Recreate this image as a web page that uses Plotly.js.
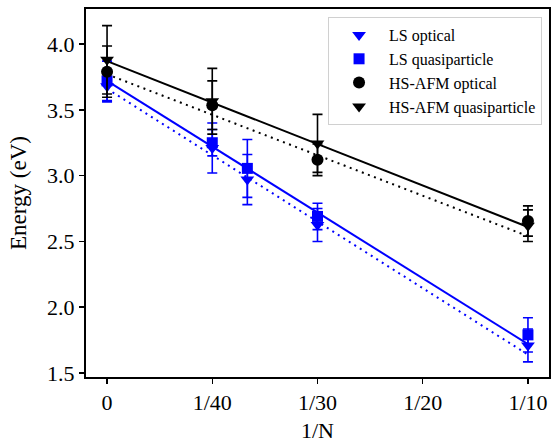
<!DOCTYPE html>
<html>
<head>
<meta charset="utf-8">
<script src="https://cdn.plot.ly/plotly-3.0.1.min.js"></script>
<style>
html,body{margin:0;padding:0;background:#fff;}
#chart{width:554px;height:446px;}
</style>
</head>
<body>
<div id="chart"></div>
<script>
// ---- data ----
const xLS = [0, 1/40, 1/30, 1/20, 1/10];
const lsOptical = [3.68, 3.21, 2.97, 2.625, 1.71];
const lsOpticalErr = [0.12, 0.19, 0.19, 0.125, 0.125];
const lsQuasi = [3.72, 3.25, 3.055, 2.69, 1.79];
const lsQuasiErr = [0.15, 0.10, 0.22, 0.10, 0.13];

const xHS = [0, 1/40, 1/20, 1/10];
const hsOptical = [3.79, 3.535, 3.12, 2.655];
const hsOpticalErr = [0.195, 0.185, 0.12, 0.115];
const hsQuasi = [3.88, 3.565, 3.245, 2.62];
const hsQuasiErr = [0.26, 0.25, 0.22, 0.12];

// fitted lines (end values)
const xFit = [0, 0.1];
const lsOpticalFit = [3.66, 1.64];
const lsQuasiFit = [3.72, 1.72];
const hsOpticalFit = [3.77, 2.54];
const hsQuasiFit = [3.87, 2.61];

const xTickVals = [0, 0.025, 0.05, 0.075, 0.1];
const xTickText = ['0', '1/40', '1/30', '1/20', '1/10'];
const yTickVals = [1.5, 2.0, 2.5, 3.0, 3.5, 4.0];
const yTickText = ['1.5', '2.0', '2.5', '3.0', '3.5', '4.0'];

const BLUE = '#0000ff', BLACK = '#000000';
const FONT = 'Liberation Serif, DejaVu Serif, serif';

function fitLine(y, color, dash) {
  return {x: xFit, y: y, mode: 'lines', showlegend: false, hoverinfo: 'skip',
          line: {color: color, width: 2, dash: dash}};
}
function pts(x, y, err, color, symbol, name, rank, size) {
  return {x: x, y: y, mode: 'markers', name: name, legendrank: rank,
          marker: {color: color, symbol: symbol, size: size},
          error_y: {type: 'data', array: err, visible: true, color: color, thickness: 1.6, width: 5}};
}

const traces = [
  fitLine(lsOpticalFit, BLUE, '2px,4.5px'),
  fitLine(lsQuasiFit, BLUE, 'solid'),
  fitLine(hsOpticalFit, BLACK, '2px,4.5px'),
  fitLine(hsQuasiFit, BLACK, 'solid'),
  pts(xLS, lsOptical, lsOpticalErr, BLUE, 'triangle-down', 'LS optical', 1, 12),
  pts(xLS, lsQuasi, lsQuasiErr, BLUE, 'square', 'LS quasiparticle', 2, 11),
  pts(xHS, hsQuasi, hsQuasiErr, BLACK, 'triangle-down', 'HS-AFM quasiparticle', 4, 12),
  pts(xHS, hsOptical, hsOpticalErr, BLACK, 'circle', 'HS-AFM optical', 3, 12)
];

const layout = {
  width: 554, height: 446,
  margin: {l: 86, r: 5, t: 9, b: 69},
  paper_bgcolor: '#fff', plot_bgcolor: '#fff',
  font: {family: FONT, size: 22, color: '#000'},
  showlegend: true,
  legend: {x: 0.985, y: 0.978, xanchor: 'right', yanchor: 'top',
           bgcolor: '#fff', bordercolor: '#d0d0d0', borderwidth: 1,
           itemwidth: 50, tracegroupgap: 0,
           font: {family: FONT, size: 16, color: '#000'}},
  xaxis: {range: [-0.005, 0.105], tickvals: xTickVals, ticktext: xTickText,
          showgrid: false, zeroline: false, showline: true, mirror: true,
          linecolor: '#000', linewidth: 2, ticks: 'outside', ticklen: 5, tickwidth: 1.5,
          tickcolor: '#000', tickfont: {family: FONT, size: 22},
          title: {text: '1/N', font: {family: FONT, size: 22}, standoff: 8}},
  yaxis: {range: [1.47, 4.266], tickvals: yTickVals, ticktext: yTickText,
          showgrid: false, zeroline: false, showline: true, mirror: true,
          linecolor: '#000', linewidth: 2, ticks: 'outside', ticklen: 5, tickwidth: 1.5,
          tickcolor: '#000', tickfont: {family: FONT, size: 22},
          title: {text: 'Energy (eV)', font: {family: FONT, size: 23}, standoff: 14}}
};

Plotly.newPlot('chart', traces, layout, {displayModeBar: false, staticPlot: true});
</script>
</body>
</html>
